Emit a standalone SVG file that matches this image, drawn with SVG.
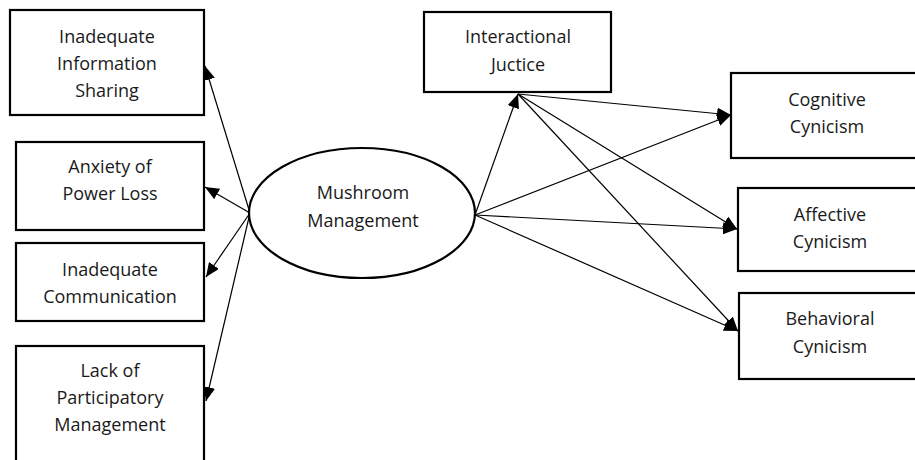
<svg xmlns="http://www.w3.org/2000/svg" width="915" height="460" viewBox="0 0 915 460">
<style>
.box{fill:#fff;stroke:#000;stroke-width:2.2}
.t{font-family:"Open Sans","Liberation Sans",sans-serif;font-size:18px;fill:#1a1a1a;text-anchor:middle}
.c{stroke:#000;stroke-width:1.2;fill:none;marker-end:url(#ah)}
</style>
<defs>
<marker id="ah" markerUnits="userSpaceOnUse" markerWidth="14" markerHeight="12" refX="14" refY="6" orient="auto">
<path d="M0,0 L14,6 L0,12 z" fill="#000"/>
</marker>
</defs>
<rect width="915" height="460" fill="#fff"/>
<g id="connectors">
<line class="c" x1="250" y1="213" x2="205" y2="66"/>
<line class="c" x1="250" y1="213" x2="205" y2="187"/>
<line class="c" x1="250" y1="213" x2="206" y2="277"/>
<line class="c" x1="250" y1="213" x2="206" y2="401"/>
<line class="c" x1="475" y1="215" x2="518" y2="94"/>
<line class="c" x1="475" y1="215" x2="731" y2="115"/>
<line class="c" x1="475" y1="215" x2="737" y2="229"/>
<line class="c" x1="475" y1="215" x2="738" y2="331"/>
<line class="c" x1="518" y1="94" x2="731" y2="115"/>
<line class="c" x1="518" y1="94" x2="737" y2="229"/>
<line class="c" x1="518" y1="94" x2="738" y2="331"/>
</g>
<g id="n-info">
<rect class="box" x="10" y="10" width="194" height="105"/>
<text class="t" x="107" y="43">Inadequate</text>
<text class="t" x="107" y="70">Information</text>
<text class="t" x="107" y="97">Sharing</text>
</g>
<g id="n-anxiety">
<rect class="box" x="16" y="142" width="188" height="88"/>
<text class="t" x="110" y="173">Anxiety of</text>
<text class="t" x="110" y="200">Power Loss</text>
</g>
<g id="n-comm">
<rect class="box" x="16" y="243" width="188" height="78"/>
<text class="t" x="110" y="276">Inadequate</text>
<text class="t" x="110" y="303">Communication</text>
</g>
<g id="n-lack">
<rect class="box" x="16" y="346" width="188" height="130"/>
<text class="t" x="110" y="377">Lack of</text>
<text class="t" x="110" y="404">Participatory</text>
<text class="t" x="110" y="431">Management</text>
</g>
<g id="n-mushroom">
<ellipse class="box" cx="362" cy="213" rx="113" ry="65"/>
<text class="t" x="363" y="199">Mushroom</text>
<text class="t" x="363" y="227">Management</text>
</g>
<g id="n-ij">
<rect class="box" x="424" y="12" width="187" height="80"/>
<text class="t" x="518" y="43">Interactional</text>
<text class="t" x="518" y="71">Juctice</text>
</g>
<g id="n-cog">
<rect class="box" x="731" y="73" width="200" height="85"/>
<text class="t" x="827" y="106">Cognitive</text>
<text class="t" x="827" y="133">Cynicism</text>
</g>
<g id="n-aff">
<rect class="box" x="738" y="188" width="200" height="83"/>
<text class="t" x="830" y="221">Affective</text>
<text class="t" x="830" y="248">Cynicism</text>
</g>
<g id="n-beh">
<rect class="box" x="739" y="293" width="200" height="86"/>
<text class="t" x="830" y="325">Behavioral</text>
<text class="t" x="830" y="353">Cynicism</text>
</g>
</svg>
